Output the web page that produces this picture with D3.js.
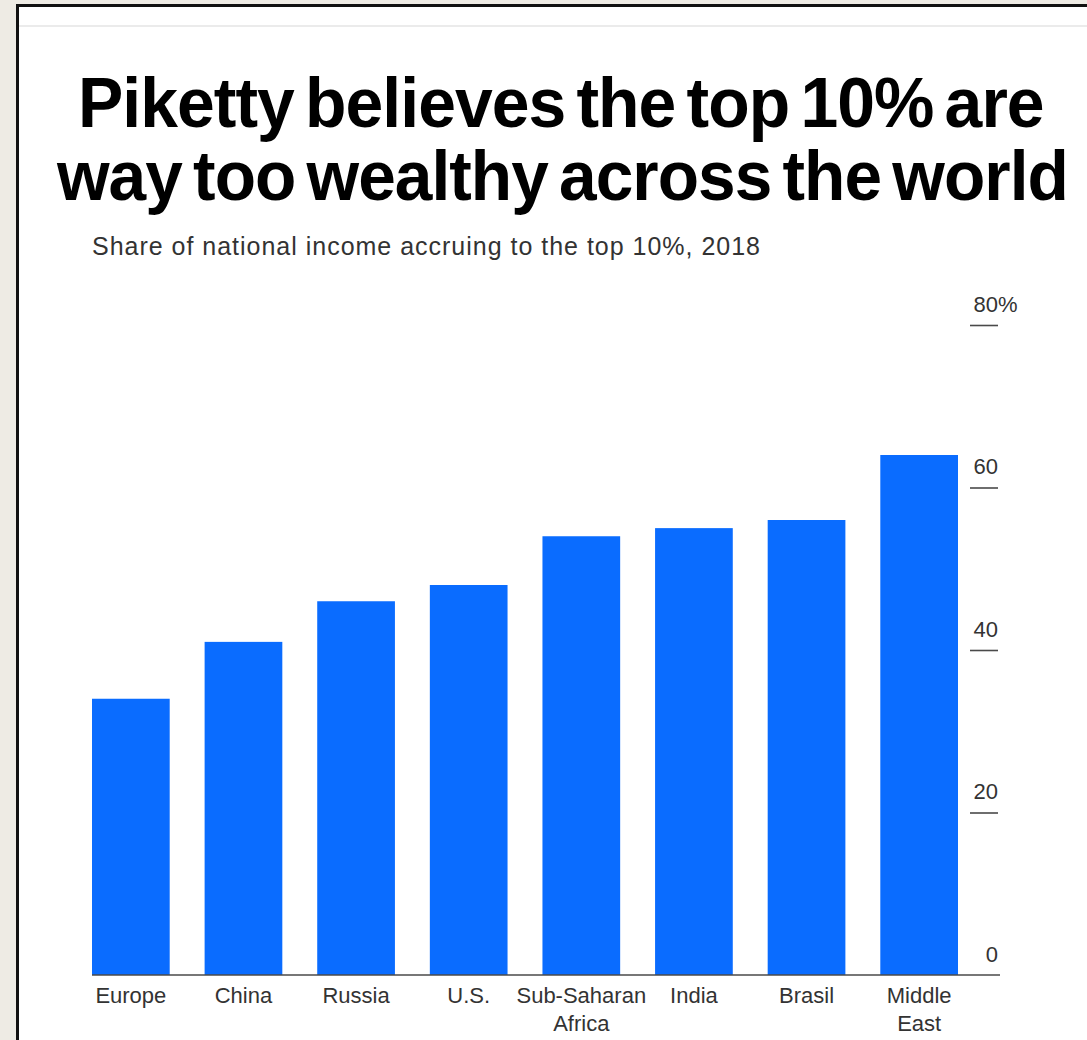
<!DOCTYPE html>
<html>
<head>
<meta charset="utf-8">
<script src="https://cdn.jsdelivr.net/npm/d3@7"></script>
<style>
  html, body { margin: 0; padding: 0; background: #eeebe4; }
  svg { display: block; }
</style>
</head>
<body>
<script>
// Share of national income going to the top 10%, 2018
const regions = ["Europe", "China", "Russia", "U.S.", "Sub-Saharan Africa", "India", "Brasil", "Middle East"];
const regionLines = [["Europe"], ["China"], ["Russia"], ["U.S."], ["Sub-Saharan", "Africa"], ["India"], ["Brasil"], ["Middle", "East"]];
const topShare = [34, 41, 46, 48, 54, 55, 56, 64];
const tickValues = [0, 20, 40, 60, 80];

const W = 1087, H = 1040;
const FONT = "Liberation Sans, Arial, sans-serif";
const svg = d3.select("body").append("svg").attr("width", W).attr("height", H);

// card with black frame
svg.append("rect").attr("x", 17.5).attr("y", 5.5).attr("width", W + 20).attr("height", H + 20)
  .attr("fill", "#ffffff").attr("stroke", "#111").attr("stroke-width", 3);
svg.append("line").attr("x1", 19).attr("x2", W).attr("y1", 26).attr("y2", 26)
  .attr("stroke", "#ebebeb").attr("stroke-width", 2);

// fit a text line to a given width by adjusting letter spacing
function fitText(sel, target) {
  const n = sel.text().length;
  const w = sel.node().getComputedTextLength();
  const cur = +sel.attr("letter-spacing") || 0;
  sel.attr("letter-spacing", (cur + (target - w) / (n - 1)).toFixed(3));
}

// headline: bold, condensed horizontally to fill its column
function headline(txt, x0, x1, yb) {
  const t = svg.append("text").attr("x", 0).attr("y", 0)
    .attr("font-family", FONT).attr("font-weight", 700)
    .attr("font-size", 71).attr("word-spacing", -7).attr("letter-spacing", -1)
    .attr("fill", "#000").text(txt);
  const b = t.node().getBBox();
  const sx = (x1 - x0) / b.width;
  t.attr("transform", `translate(${x0 - b.x * sx},${yb}) scale(${sx.toFixed(4)},1)`);
  return t;
}
headline("Piketty believes the top 10% are", 78, 1044, 127);
headline("way too wealthy across the world", 56, 1068, 200);

const sub = svg.append("text").attr("x", 92).attr("y", 255)
  .attr("font-family", FONT)
  .attr("font-size", 25).attr("fill", "#333")
  .text("Share of national income accruing to the top 10%, 2018");
fitText(sub, 760 - 92);

// scales
const x = d3.scaleBand().domain(regions).range([92, 958]).paddingInner(0.31).paddingOuter(0);
const y = d3.scaleLinear().domain([0, 80]).range([975, 325]);

// bars
svg.append("g").selectAll("rect").data(regions).join("rect")
  .attr("x", d => x(d))
  .attr("width", x.bandwidth())
  .attr("y", (d, i) => y(topShare[i]))
  .attr("height", (d, i) => y(0) - y(topShare[i]))
  .attr("fill", "#0a6cff");

// baseline
svg.append("line").attr("x1", 92).attr("x2", 1000).attr("y1", y(0)).attr("y2", y(0))
  .attr("stroke", "#4a4a4a").attr("stroke-width", 1.6);

// right value axis: short ticks with labels sitting on top
const yAxis = d3.axisLeft(y).tickValues(tickValues).tickSize(28).tickFormat(d => d);
const ag = svg.append("g").attr("transform", "translate(998,0)").call(yAxis);
ag.select(".domain").remove();
ag.selectAll(".tick line").attr("stroke", "#4a4a4a").attr("stroke-width", 1.6)
  .filter(d => d === 0).remove();
ag.selectAll(".tick text")
  .attr("x", 0).attr("dy", null).attr("y", -14)
  .attr("text-anchor", "end")
  .attr("font-family", FONT)
  .attr("font-size", 22).attr("fill", "#333");
ag.selectAll(".tick").filter(d => d === 80).append("text")
  .attr("x", 0).attr("y", -14).attr("text-anchor", "start")
  .attr("font-family", FONT)
  .attr("font-size", 22).attr("fill", "#333").text("%");

// category labels
const lab = svg.append("g").selectAll("text").data(regions).join("text")
  .attr("x", d => x(d) + x.bandwidth() / 2)
  .attr("y", 1003)
  .attr("text-anchor", "middle")
  .attr("font-family", FONT)
  .attr("font-size", 22).attr("fill", "#333");
lab.selectAll("tspan").data((d, i) => regionLines[i]).join("tspan")
  .attr("x", function () { return this.parentNode.getAttribute("x"); })
  .attr("dy", (d, i) => i === 0 ? 0 : 28)
  .text(d => d);
</script>
</body>
</html>
